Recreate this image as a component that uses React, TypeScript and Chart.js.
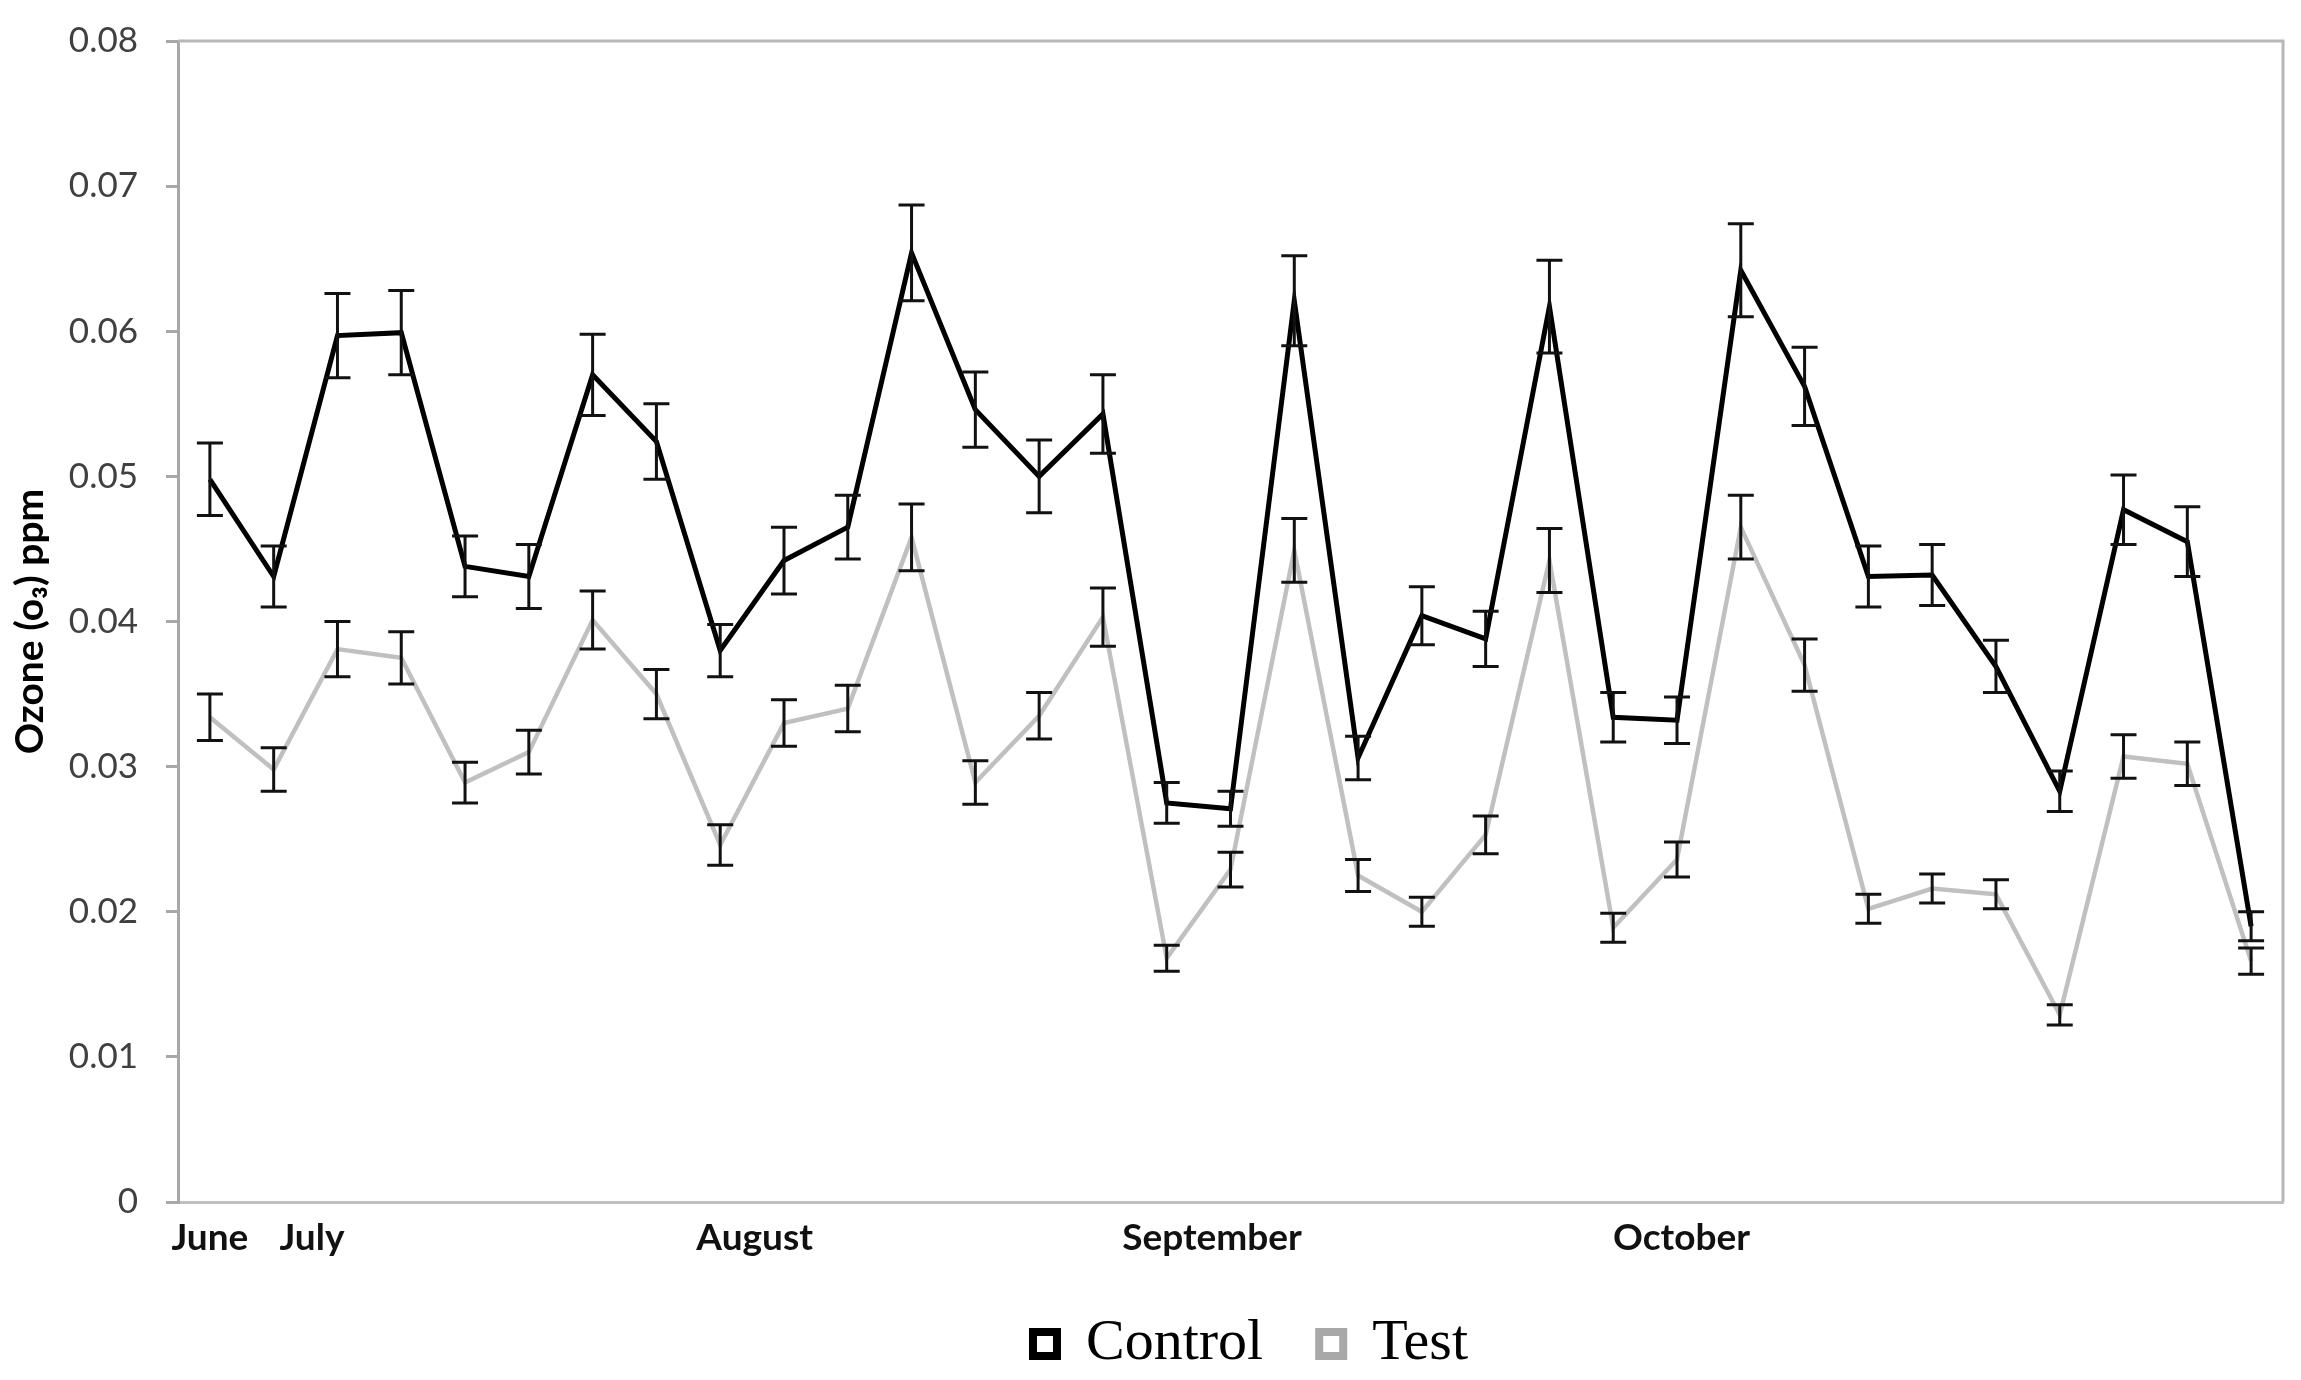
import React, { useEffect, useRef } from "react";
import { Chart, registerables } from "chart.js";

Chart.register(...registerables);

// Sampling occasions (category positions along the x axis)
const sampleNumbers = [
  1, 2, 3, 4, 5, 6, 7, 8, 9, 10, 11, 12, 13, 14, 15, 16, 17, 18, 19, 20, 21, 22,
  23, 24, 25, 26, 27, 28, 29, 30, 31, 32, 33,
];

const controlValues = [
  0.0498, 0.0431, 0.0597, 0.0599, 0.0438, 0.0431, 0.057, 0.0524, 0.038, 0.0442,
  0.0465, 0.0654, 0.0546, 0.05, 0.0543, 0.0275, 0.0271, 0.0621, 0.0306, 0.0404,
  0.0388, 0.0617, 0.0334, 0.0332, 0.0642, 0.0562, 0.0431, 0.0432, 0.0369,
  0.0283, 0.0477, 0.0455, 0.019,
];
const controlErrors = [
  0.0025, 0.0021, 0.0029, 0.0029, 0.0021, 0.0022, 0.0028, 0.0026, 0.0018,
  0.0023, 0.0022, 0.0033, 0.0026, 0.0025, 0.0027, 0.0014, 0.0012, 0.0031,
  0.0015, 0.002, 0.0019, 0.0032, 0.0017, 0.0016, 0.0032, 0.0027, 0.0021,
  0.0021, 0.0018, 0.0014, 0.0024, 0.0024, 0.001,
];

const testValues = [
  0.0334, 0.0298, 0.0381, 0.0375, 0.0289, 0.031, 0.0401, 0.035, 0.0246, 0.033,
  0.034, 0.0458, 0.0289, 0.0335, 0.0403, 0.0168, 0.0229, 0.0449, 0.0225, 0.02,
  0.0253, 0.0442, 0.0189, 0.0236, 0.0465, 0.037, 0.0202, 0.0216, 0.0212,
  0.0129, 0.0307, 0.0302, 0.0166,
];
const testErrors = [
  0.0016, 0.0015, 0.0019, 0.0018, 0.0014, 0.0015, 0.002, 0.0017, 0.0014,
  0.0016, 0.0016, 0.0023, 0.0015, 0.0016, 0.002, 0.0009, 0.0012, 0.0022,
  0.0011, 0.001, 0.0013, 0.0022, 0.001, 0.0012, 0.0022, 0.0018, 0.001, 0.001,
  0.001, 0.0007, 0.0015, 0.0015, 0.0009,
];

// Month labels and where they sit on the sampling axis
const monthLabels = ["June", "July", "August", "September", "October"];
const monthPositions = [1, 2.6, 9.54, 16.71, 24.07];

const yMin = 0;
const yMax = 0.08;
const yStep = 0.01;

const seriesNames = ["Control", "Test"];

const errorBarPlugin = {
  id: "errorBars",
  afterDatasetsDraw(chart: any) {
    const ctx = chart.ctx;
    const yScale = chart.scales.y;
    ctx.save();
    ctx.strokeStyle = "#111";
    ctx.lineWidth = 3;
    chart.data.datasets.forEach((ds: any, di: number) => {
      const meta = chart.getDatasetMeta(di);
      meta.data.forEach((pt: any, i: number) => {
        const v = ds.data[i].y;
        const e = ds.errors[i];
        const x = pt.x;
        const top = yScale.getPixelForValue(v + e);
        const bot = yScale.getPixelForValue(v - e);
        const cap = 13;
        ctx.beginPath();
        ctx.moveTo(x, top);
        ctx.lineTo(x, bot);
        ctx.moveTo(x - cap, top);
        ctx.lineTo(x + cap, top);
        ctx.moveTo(x - cap, bot);
        ctx.lineTo(x + cap, bot);
        ctx.stroke();
      });
    });
    ctx.restore();
  },
};

const framePlugin = {
  id: "frame",
  beforeDatasetsDraw(chart: any) {
    const { ctx, chartArea } = chart;
    ctx.save();
    ctx.strokeStyle = "#b8b8b8";
    ctx.lineWidth = 3;
    ctx.beginPath();
    ctx.moveTo(chartArea.left, chartArea.top);
    ctx.lineTo(chartArea.right, chartArea.top);
    ctx.lineTo(chartArea.right, chartArea.bottom);
    ctx.stroke();
    ctx.restore();
  },
};

// nudge the legend block slightly to the right, as in the original figure
const legendShiftPlugin = {
  id: "legendShift",
  afterLayout(chart: any) {
    const lg = chart.legend;
    if (lg) {
      lg.left += 20;
      lg.right += 20;
    }
  },
};

export default function App() {
  const ref = useRef<HTMLCanvasElement>(null);

  useEffect(() => {
    document.body.style.margin = "0";
    const legendColors = ["#000000", "#a8a8a8"];
    const chart = new Chart(ref.current as HTMLCanvasElement, {
      type: "line",
      data: {
        datasets: [
          {
            label: seriesNames[0],
            data: sampleNumbers.map((x, i) => ({ x, y: controlValues[i] })),
            errors: controlErrors,
            borderColor: "#000000",
            backgroundColor: "#000000",
            borderWidth: 5,
            pointRadius: 0,
            tension: 0,
            fill: false,
          } as any,
          {
            label: seriesNames[1],
            data: sampleNumbers.map((x, i) => ({ x, y: testValues[i] })),
            errors: testErrors,
            borderColor: "#c0c0c0",
            backgroundColor: "#c0c0c0",
            borderWidth: 4.5,
            pointRadius: 0,
            tension: 0,
            fill: false,
          } as any,
        ],
      },
      options: {
        responsive: false,
        devicePixelRatio: 1,
        animation: false,
        events: [],
        layout: { padding: { left: 0, right: 18, top: 41, bottom: -3 } },
        scales: {
          x: {
            type: "linear",
            min: 0.5,
            max: 33.5,
            afterBuildTicks: (scale: any) => {
              scale.ticks = monthPositions.map((v) => ({ value: v }));
            },
            afterFit: (scale: any) => {
              scale.height = 57;
            },
            ticks: {
              autoSkip: false,
              maxRotation: 0,
              minRotation: 0,
              padding: 6,
              color: "#111",
              font: { family: "Lato", size: 37, weight: "bold" },
              callback: (_v: any, index: number) => monthLabels[index],
            },
            grid: { display: false },
            border: { display: true, color: "#c0c0c0", width: 3 },
          },
          y: {
            min: yMin,
            max: yMax,
            afterFit: (scale: any) => {
              scale.width = 178;
              scale.paddingTop = 0;
              scale.paddingBottom = 0;
            },
            ticks: {
              stepSize: yStep,
              padding: 28,
              color: "#404040",
              font: { family: "Lato", size: 35 },
              callback: (v: any) => (Number(v) === 0 ? "0" : Number(v).toFixed(2)),
            },
            grid: {
              display: true,
              drawOnChartArea: false,
              drawTicks: true,
              tickLength: 12,
              color: "#a8a8a8",
              lineWidth: 3,
            },
            border: { display: true, color: "#a8a8a8", width: 3 },
            title: {
              display: true,
              text: "Ozone (o\u2083) ppm",
              color: "#000",
              font: { family: "Lato", size: 39, weight: "bold" },
              padding: { top: 7, bottom: 0 },
            },
          },
        },
        plugins: {
          tooltip: { enabled: false },
          legend: {
            position: "bottom",
            fullSize: false,
            labels: {
              font: { family: "'Liberation Serif', 'Times New Roman', serif", size: 58 },
              color: "#000",
              boxWidth: 24,
              boxHeight: 24,
              padding: 56,
              generateLabels: (c: any) =>
                c.data.datasets.map((ds: any, i: number) => ({
                  text: ds.label,
                  fillStyle: "#ffffff",
                  strokeStyle: legendColors[i],
                  lineWidth: 8,
                  hidden: false,
                  datasetIndex: i,
                  fontColor: "#000",
                })),
            },
          },
        },
      } as any,
      plugins: [framePlugin, errorBarPlugin, legendShiftPlugin],
    });
    return () => chart.destroy();
  }, []);

  return (
    <div style={{ width: 2301, height: 1380, background: "#fff" }}>
      <canvas ref={ref} width={2301} height={1380} style={{ display: "block" }} />
    </div>
  );
}
